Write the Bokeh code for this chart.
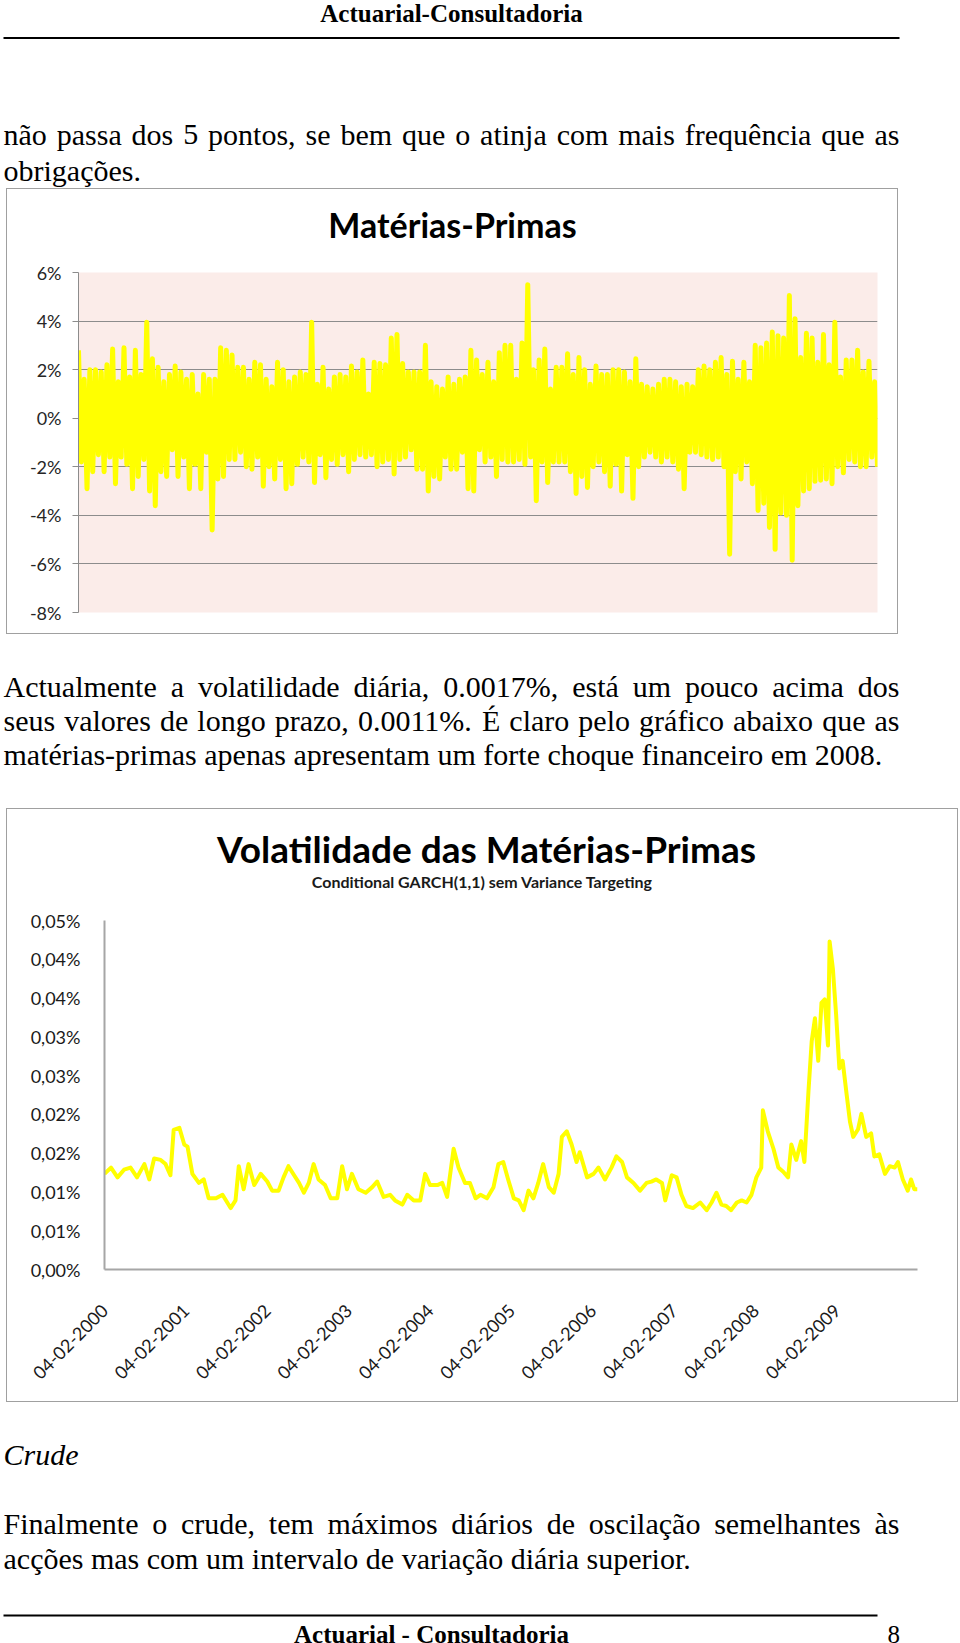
import math
import unicodedata
from bokeh.plotting import figure
from bokeh.models import Range1d, FixedTicker
from bokeh.core.properties import value
from bokeh.embed import file_html
from bokeh.resources import INLINE

# ---------------- data: chart 1, daily returns (%) — upper / lower swing per column
ret_high = [2.8, 1.6, 2.0, 2.0, 1.9, 2.2, 2.85, 1.5, 2.9, 1.7, 2.8, 1.8, 3.95, 2.45, 2.1, 1.5, 1.8, 2.15,
            1.9, 1.6, 1.8, 1.0, 1.8, 1.6, 1.6, 2.9, 2.8, 2.6, 2.1, 2.1, 1.6, 2.3, 2.2, 1.6, 1.3, 2.3,
            2.0, 1.5, 1.7, 1.9, 1.8, 3.95, 1.4, 2.1, 1.2, 1.7, 1.8, 1.7, 2.15, 1.9, 2.4, 1.0, 2.3, 2.25,
            2.2, 3.3, 3.45, 2.25, 1.9, 1.9, 1.9, 3.0, 1.5, 1.3, 1.2, 1.7, 1.4, 1.6, 1.7, 2.8, 2.4,
            1.8, 2.3, 1.5, 2.7, 3.0, 3.0, 1.6, 3.1, 5.5, 2.0, 2.4, 2.85, 1.2, 2.1, 2.1, 2.65, 1.8, 2.5,
            2.0, 1.4, 2.15, 1.8, 1.8, 2.0, 2.0, 1.9, 1.5, 2.45, 1.4, 1.3, 1.2, 1.4, 1.6, 1.6, 1.5, 1.3,
            1.4, 1.3, 2.0, 2.15, 2.0, 2.3, 2.5, 1.8, 2.35, 1.6, 2.3, 1.5, 3.0, 2.9, 3.1, 3.55, 3.4, 3.3,
            5.05, 4.1, 2.5, 3.5, 3.3, 2.3, 3.45, 2.2, 3.95, 1.7, 2.4, 2.4, 2.8, 1.9, 2.35, 1.5]
ret_low = [-1.8, -2.9, -2.2, -1.5, -2.2, -1.6, -2.7, -1.6, -1.9, -2.9, -2.4, -1.7, -3.0, -3.6, -2.2, -2.4,
           -1.3, -2.4, -1.6, -2.9, -1.9, -2.9, -1.4, -4.6, -2.5, -2.4, -1.7, -1.7, -1.4, -2.0, -2.1, -1.6,
           -2.8, -2.0, -2.5, -1.7, -2.9, -2.7, -1.9, -1.6, -1.8, -2.65, -1.5, -2.45, -1.7, -1.9, -1.5, -2.2,
           -1.7, -1.5, -1.6, -1.5, -2.0, -1.8, -1.7, -2.3, -1.7, -1.6, -1.3, -2.1, -2.1, -3.0, -2.4, -2.5,
           -1.6, -2.1, -2.1, -1.4, -2.9, -3.0, -1.3,
           -1.8, -1.6, -2.4, -1.7, -1.8, -1.8, -1.7, -1.9, -1.6, -3.4, -1.8, -2.65, -1.8, -1.8, -1.8, -2.2,
           -3.1, -2.4, -2.85, -2.0, -1.8, -2.2, -2.8, -1.9, -3.0, -1.5, -3.3, -2.0, -1.6, -1.4, -1.6, -1.8,
           -1.6, -1.8, -2.1, -2.9, -1.4, -1.4, -1.5, -1.6, -1.7, -1.6, -2.0, -5.6, -2.2, -2.5, -1.8, -2.7,
           -3.8, -3.5, -4.5, -5.4, -3.9, -4.0, -5.85, -3.6, -3.0, -2.9, -2.6, -2.55, -2.5, -2.7, -2.0, -2.25,
           -1.7, -1.8, -2.0, -2.0, -1.6, -2.0]
ret_ticks = [-8, -6, -4, -2, 0, 2, 4, 6]
ret_tick_labels = ["-8%", "-6%", "-4%", "-2%", "0%", "2%", "4%", "6%"]

# ---------------- data: chart 2, conditional GARCH(1,1) volatility (%)
vol_year = [2000.09, 2000.17, 2000.25, 2000.33, 2000.41, 2000.49, 2000.58, 2000.64, 2000.70, 2000.78,
            2000.84, 2000.90, 2000.94, 2001.01, 2001.07, 2001.11, 2001.17, 2001.25, 2001.31, 2001.37,
            2001.46, 2001.54, 2001.64, 2001.70, 2001.74, 2001.80, 2001.86, 2001.93, 2002.01, 2002.09,
            2002.15, 2002.23, 2002.29, 2002.35, 2002.42, 2002.48, 2002.54, 2002.60, 2002.66, 2002.72,
            2002.80, 2002.87, 2002.95, 2003.01, 2003.07, 2003.13, 2003.21, 2003.30, 2003.38, 2003.44,
            2003.52, 2003.60, 2003.66, 2003.75, 2003.81, 2003.89, 2003.97, 2004.03, 2004.09, 2004.18,
            2004.24, 2004.30, 2004.38, 2004.44, 2004.52, 2004.58, 2004.65, 2004.71,
            2004.79, 2004.87, 2004.93, 2004.99, 2005.05, 2005.12, 2005.18, 2005.24, 2005.30, 2005.36,
            2005.42, 2005.48, 2005.55, 2005.61, 2005.67, 2005.71, 2005.77, 2005.83, 2005.89, 2005.93,
            2006.02, 2006.10, 2006.16, 2006.24, 2006.32, 2006.38, 2006.45, 2006.51, 2006.59, 2006.67,
            2006.75, 2006.81, 2006.87, 2006.94, 2006.98, 2007.06, 2007.12, 2007.18, 2007.24, 2007.32,
            2007.41, 2007.49, 2007.55, 2007.61, 2007.67, 2007.73, 2007.79, 2007.86, 2007.92, 2007.98,
            2008.04, 2008.10, 2008.16, 2008.18, 2008.24, 2008.31, 2008.37, 2008.43, 2008.49, 2008.53,
            2008.59, 2008.65, 2008.69, 2008.74, 2008.78, 2008.82, 2008.86, 2008.90, 2008.94, 2008.98,
            2009.00, 2009.04, 2009.08, 2009.12, 2009.16, 2009.21, 2009.25, 2009.29, 2009.35, 2009.39,
            2009.45, 2009.51, 2009.55, 2009.61, 2009.68, 2009.74, 2009.80, 2009.84, 2009.90, 2009.96,
            2010.00, 2010.04, 2010.08]
vol_pct = [0.01233, 0.01314, 0.01188, 0.01287, 0.01314, 0.01188, 0.01359, 0.01161, 0.01431, 0.01413,
           0.01359, 0.01215, 0.01800, 0.01827, 0.01611, 0.01584, 0.01233, 0.01116, 0.01161, 0.00918,
           0.00918, 0.00963, 0.00792, 0.00891, 0.01332, 0.01035, 0.01359, 0.01089, 0.01233, 0.01134,
           0.01017, 0.01017, 0.01188, 0.01332, 0.01215, 0.01116, 0.00990, 0.01116, 0.01359, 0.01161,
           0.01089, 0.00918, 0.00918, 0.01332, 0.01035, 0.01233, 0.01035, 0.00990, 0.01062, 0.01134,
           0.00936, 0.00963, 0.00891, 0.00837, 0.00963, 0.00891, 0.00891, 0.01233, 0.01089, 0.01089,
           0.01116, 0.00936, 0.01557, 0.01314, 0.01116, 0.01116, 0.00918, 0.00963,
           0.00918, 0.01062, 0.01359, 0.01386, 0.01161, 0.00918, 0.00891, 0.00765, 0.01017, 0.00918,
           0.01116, 0.01359, 0.01062, 0.00990, 0.01233, 0.01710, 0.01782, 0.01611, 0.01386, 0.01512,
           0.01188, 0.01233, 0.01314, 0.01161, 0.01314, 0.01458, 0.01386, 0.01188, 0.01116, 0.01017,
           0.01116, 0.01134, 0.01161, 0.01116, 0.00891, 0.01215, 0.01188, 0.00963, 0.00819, 0.00792,
           0.00864, 0.00765, 0.00864, 0.00990, 0.00837, 0.00819, 0.00765, 0.00864, 0.00891, 0.00864,
           0.00963, 0.01188, 0.01314, 0.02052, 0.01782, 0.01557, 0.01314, 0.01260, 0.01188, 0.01611,
           0.01413, 0.01656, 0.01386, 0.02295, 0.02943, 0.03240, 0.02691, 0.03438, 0.03483, 0.02889,
           0.04230, 0.03879, 0.03285, 0.02592, 0.02691, 0.02250, 0.01908, 0.01710, 0.01809, 0.02007,
           0.01710, 0.01755, 0.01458, 0.01485, 0.01233, 0.01332, 0.01314, 0.01386, 0.01161, 0.01017,
           0.01161, 0.01035, 0.01035]
vol_ticks = [0.0, 0.005, 0.01, 0.015, 0.02, 0.025, 0.03, 0.035, 0.04, 0.045]
vol_tick_labels = ["0,00%", "0,01%", "0,01%", "0,02%", "0,02%", "0,03%", "0,03%", "0,04%", "0,04%", "0,05%"]
date_labels = ["04-02-2000", "04-02-2001", "04-02-2002", "04-02-2003", "04-02-2004",
               "04-02-2005", "04-02-2006", "04-02-2007", "04-02-2008", "04-02-2009"]

# ---------------- page text
header_text = "Actuarial-Consultadoria"
footer_text = "Actuarial - Consultadoria"
page_no = "8"
para1 = ["não passa dos 5 pontos, se bem que o atinja com mais frequência que as", "obrigações."]
chart1_title = "Matérias-Primas"
para2 = ["Actualmente a volatilidade diária, 0.0017%, está um pouco acima dos",
         "seus valores de longo prazo, 0.0011%. É claro pelo gráfico abaixo que as",
         "matérias-primas apenas apresentam um forte choque financeiro em 2008."]
chart2_title = "Volatilidade das Matérias-Primas"
chart2_subtitle = "Conditional GARCH(1,1) sem Variance Targeting"
heading3 = "Crude"
para3 = ["Finalmente o crude, tem máximos diários de oscilação semelhantes às",
         "acções mas com um intervalo de variação diária superior."]

SERIF = "Liberation Serif"
SANS = "Lato"
YELLOW = "#FFFF00"
BOX = "1px solid #A0A0A0"
BOX_TOP_CSS = {"margin-left": "6px", "border-left": BOX, "border-right": BOX, "border-top": BOX}
BOX_BOTTOM_CSS = {"margin-left": "6px", "border-left": BOX, "border-right": BOX, "border-bottom": BOX}

TIMES_W = {' ': 250, ',': 250, '.': 250, '%': 833, '-': 333, ':': 278,
           'a': 444, 'b': 500, 'c': 444, 'd': 500, 'e': 444, 'f': 333, 'g': 500, 'h': 500, 'i': 278,
           'j': 278, 'k': 500, 'l': 278, 'm': 778, 'n': 500, 'o': 500, 'p': 500, 'q': 500, 'r': 333,
           's': 389, 't': 278, 'u': 500, 'v': 500, 'w': 722, 'x': 500, 'y': 500, 'z': 444,
           'A': 722, 'B': 667, 'C': 667, 'D': 722, 'E': 611, 'F': 556, 'G': 722, 'H': 722, 'I': 333,
           'J': 389, 'K': 722, 'L': 611, 'M': 889, 'N': 722, 'O': 722, 'P': 556, 'Q': 722, 'R': 667,
           'S': 556, 'T': 611, 'U': 722, 'V': 722, 'W': 944, 'X': 722, 'Y': 722, 'Z': 611}


def text_width(s, size):
    total = 0
    for c in s:
        b = unicodedata.normalize("NFD", c)[0]
        total += TIMES_W.get(b, 500)
    return total * size / 1000.0


def text_panel(width, height, x0, x1, y_top, y_bottom, styles=None):
    # a blank panel whose ranges are the page's own pixel coordinates (y grows downwards)
    p = figure(width=width, height=height, x_range=Range1d(x0, x1), y_range=Range1d(y_bottom, y_top),
               x_axis_type=None, y_axis_type=None, toolbar_location=None, output_backend="svg",
               min_border=0, outline_line_color=None)
    p.background_fill_color = "white"
    p.border_fill_color = "white"
    if styles:
        p.styles = styles
    return p


def put_text(p, x, y, s, size=30, align="left", style="normal", font=SERIF, color="black"):
    p.text(x=[x], y=[y], text=[s], text_font=value(font), text_font_size=value(f"{size}px"),
           text_font_style=style, text_align=align, text_baseline="alphabetic", text_color=color)


def put_justified(p, y, s, x0=3, x1=899, size=30):
    words = s.split(" ")
    ws = [text_width(w, size) for w in words]
    gap = (x1 - x0 - sum(ws)) / (len(words) - 1)
    xs, x = [], x0
    for w in ws:
        xs.append(x)
        x += w + gap
    p.text(x=xs, y=[y] * len(words), text=words, text_font=value(SERIF),
           text_font_size=value(f"{size}px"), text_align="left", text_baseline="alphabetic",
           text_color="black")


# ---------------- block 1: header + paragraph  (page y 0..188)
t1 = text_panel(960, 188, 0, 960, 0, 188)
put_text(t1, 451, 13, header_text, size=25, align="center", style="bold")
t1.segment(x0=[3], y0=[37.5], x1=[899], y1=[37.5], line_color="black", line_width=2)
put_justified(t1, 134, para1[0])
put_text(t1, 3, 170, para1[1])

# ---------------- chart 1 title strip (page y 188..256, inside the box)
c1t = text_panel(892, 68, 7, 897, 189, 256, BOX_TOP_CSS)
put_text(c1t, 451, 223, chart1_title, size=34, align="center", style="bold", font=SANS)

# ---------------- chart 1: Matérias-Primas returns  (page y 256..634)
n1 = len(ret_high)
ret_x = list(range(2 * n1))
ret_y = []
for hi, lo in zip(ret_high, ret_low):
    ret_y += [hi, lo]

p1 = figure(width=892, height=378, x_range=Range1d(0, 2 * n1 - 1), y_range=Range1d(-8, 6),
            x_axis_type=None, toolbar_location=None, output_backend="svg",
            min_border_left=71, min_border_right=22, min_border_top=16, min_border_bottom=22,
            outline_line_color=None)
p1.title.visible = False
p1.styles = BOX_BOTTOM_CSS
p1.background_fill_color = "#FBECE9"
p1.border_fill_color = "white"
ya = p1.yaxis[0]
ya.ticker = FixedTicker(ticks=ret_ticks)
ya.major_label_overrides = dict(zip(ret_ticks, ret_tick_labels))
ya.axis_line_color = "#8C8C8C"
ya.major_tick_line_color = "#8C8C8C"
ya.major_tick_out = 6
ya.major_tick_in = 0
ya.minor_tick_line_color = None
ya.major_label_text_font = SANS
ya.major_label_text_font_size = "18px"
ya.major_label_text_color = "#262626"
ya.major_label_standoff = 11
p1.ygrid.ticker = FixedTicker(ticks=ret_ticks[:-1])
p1.ygrid.grid_line_color = "#8C8C8C"
p1.line(ret_x, ret_y, line_color=YELLOW, line_width=5, line_join="round")

# ---------------- block 2: paragraph  (page y 634..808)
t2 = text_panel(960, 174, 0, 960, 634, 808)
put_justified(t2, 686, para2[0])
put_justified(t2, 720, para2[1])
put_text(t2, 3, 754, para2[2])

# ---------------- chart 2 title strip (page y 808..900, inside the box)
c2t = text_panel(952, 92, 7, 957, 809, 900, BOX_TOP_CSS)
put_text(c2t, 485, 848, chart2_title, size=37, align="center", style="bold", font=SANS)
put_text(c2t, 481, 880, chart2_subtitle, size=16, align="center", style="bold", font=SANS,
         color="#1a1a1a")

# ---------------- chart 2: volatility  (page y 900..1402)
def label_to_year(lbl):
    d, m, y = (int(v) for v in lbl.split("-"))
    mdays = [31, 29 if y % 4 == 0 else 28, 31, 30, 31, 30, 31, 31, 30, 31, 30, 31]
    doy = sum(mdays[:m - 1]) + d - 1
    return y + doy / (366 if y % 4 == 0 else 365)


date_ticks = [label_to_year(l) for l in date_labels]

p2 = figure(width=952, height=502, x_range=Range1d(vol_year[0], vol_year[-1]),
            y_range=Range1d(vol_ticks[0], vol_ticks[-1]),
            toolbar_location=None, output_backend="svg",
            min_border_left=97, min_border_right=42, min_border_top=20, min_border_bottom=133,
            outline_line_color=None)
p2.title.visible = False
p2.styles = BOX_BOTTOM_CSS
p2.background_fill_color = "white"
p2.border_fill_color = "white"
p2.grid.visible = False
xa = p2.xaxis[0]
xa.ticker = FixedTicker(ticks=date_ticks)
xa.major_label_overrides = dict(zip(date_ticks, date_labels))
xa.major_label_orientation = math.pi / 4
xa.axis_line_color = "#A6A6A6"
xa.axis_line_width = 2
xa.major_tick_line_color = None
xa.minor_tick_line_color = None
xa.major_label_text_font = SANS
xa.major_label_text_font_size = "18px"
xa.major_label_text_color = "#1a1a1a"
xa.major_label_standoff = 32
ya2 = p2.yaxis[0]
ya2.ticker = FixedTicker(ticks=vol_ticks)
ya2.major_label_overrides = dict(zip(vol_ticks, vol_tick_labels))
ya2.axis_line_color = "#A6A6A6"
ya2.axis_line_width = 2
ya2.major_tick_line_color = None
ya2.minor_tick_line_color = None
ya2.major_label_text_font = SANS
ya2.major_label_text_font_size = "18px"
ya2.major_label_text_color = "#1a1a1a"
ya2.major_label_standoff = 18
p2.line(vol_year, vol_pct, line_color=YELLOW, line_width=4, line_join="round")

# ---------------- block 3  (page y 1402..1643)
t3 = text_panel(960, 241, 0, 960, 1402, 1643)
put_text(t3, 3, 1454, heading3, style="italic")
put_justified(t3, 1523, para3[0])
put_text(t3, 3, 1558, para3[1])
t3.segment(x0=[3], y0=[1615], x1=[877], y1=[1615], line_color="black", line_width=2)
put_text(t3, 431, 1634, footer_text, size=25, align="center", style="bold")
put_text(t3, 887, 1634, page_no, size=25)

open("out.html", "w").write(file_html([t1, c1t, p1, t2, c2t, p2, t3], INLINE))
